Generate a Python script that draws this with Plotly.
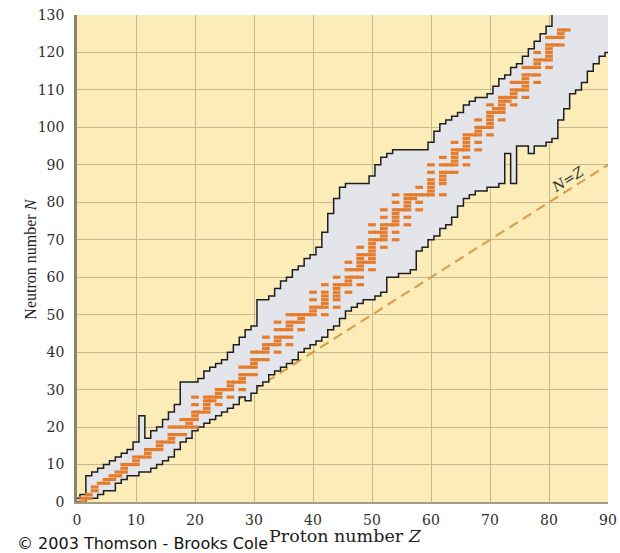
import plotly.graph_objects as go

# ---------------- data ----------------
# Proton-number columns of the band of known nuclides
band_Z = list(range(0, 91))
# lower (proton-rich) boundary line of known nuclides, read per column
lower_N = [0, 0, 1, 1, 2, 3, 3, 5, 6, 7,
           7, 8, 8, 9, 10, 11, 12, 14, 16, 17,
           19, 20, 21, 22, 23, 24, 25, 26, 28, 27,
           29, 31, 32, 34, 35, 36, 37, 38, 40, 41,
           42, 43, 44, 46, 47, 49, 51, 52, 53, 54,
           54, 55, 56, 60, 60, 61, 61, 62, 67, 68,
           70, 71, 73, 74, 76, 79, 81, 82, 83, 83,
           84, 84, 85, 93, 85, 95, 95, 93, 95, 95,
           96, 97, 102, 105, 109, 110, 112, 115, 117, 119,
           120]
# upper (neutron-rich) boundary line of known nuclides, read per column
upper_N = [1, 2, 7, 8, 9, 10, 11, 12, 13, 14,
           16, 23, 17, 19, 20, 22, 24, 26, 32, 32,
           32, 33, 35, 36, 37, 38, 40, 42, 44, 46,
           47, 54, 54, 55, 57, 59, 60, 62, 63, 65,
           66, 68, 72, 77, 81, 84, 85, 85, 85, 85,
           87, 90, 92, 93, 94, 94, 94, 94, 94, 94,
           96, 99, 101, 102, 103, 104, 106, 107, 108, 108,
           109, 111, 113, 114, 116, 117, 119, 121, 123, 125,
           127, 140, 140, 140, 140, 140, 140, 140, 140, 140,
           140]

# stable nuclides: neutron numbers for each proton number
stable = {
    1: [0, 1], 2: [1, 2], 3: [3, 4], 4: [5], 5: [5, 6], 6: [6, 7], 7: [7, 8],
    8: [8, 9, 10], 9: [10], 10: [10, 11, 12], 11: [12], 12: [12, 13, 14],
    13: [14], 14: [14, 15, 16], 15: [16], 16: [16, 17, 18, 20], 17: [18, 20],
    18: [18, 20, 22], 19: [20, 21, 22], 20: [20, 22, 23, 24, 26, 28], 21: [24],
    22: [24, 25, 26, 27, 28], 23: [27, 28], 24: [26, 28, 29, 30], 25: [30],
    26: [28, 30, 31, 32], 27: [32], 28: [30, 32, 33, 34, 36], 29: [34, 36],
    30: [34, 36, 37, 38, 40], 31: [38, 40], 32: [38, 40, 41, 42, 44], 33: [42],
    34: [40, 42, 43, 44, 46, 48], 35: [44, 46], 36: [42, 44, 46, 47, 48, 50],
    37: [48, 50], 38: [46, 48, 49, 50], 39: [50], 40: [50, 51, 52, 54, 56],
    41: [52], 42: [50, 52, 53, 54, 55, 56, 58], 44: [52, 54, 55, 56, 57, 58, 60],
    45: [58], 46: [56, 58, 59, 60, 62, 64], 47: [60, 62],
    48: [58, 60, 62, 63, 64, 65, 66, 68], 49: [64, 66],
    50: [62, 64, 65, 66, 67, 68, 69, 70, 72, 74], 51: [70, 72],
    52: [68, 70, 71, 72, 73, 74, 76, 78], 53: [74],
    54: [70, 72, 74, 75, 76, 77, 78, 80, 82], 55: [78],
    56: [74, 76, 78, 79, 80, 81, 82], 57: [81, 82], 58: [78, 80, 82, 84],
    59: [82], 60: [82, 83, 84, 85, 86, 88, 90], 62: [82, 85, 86, 87, 88, 90, 92],
    63: [88, 90], 64: [88, 90, 91, 92, 93, 94, 96], 65: [94],
    66: [90, 92, 94, 95, 96, 97, 98], 67: [98], 68: [94, 96, 98, 99, 100, 102],
    69: [100], 70: [98, 100, 101, 102, 103, 104, 106], 71: [104, 105],
    72: [102, 104, 105, 106, 107, 108], 73: [107, 108],
    74: [106, 108, 109, 110, 112], 75: [110, 112],
    76: [108, 110, 111, 112, 113, 114, 116], 77: [114, 116],
    78: [112, 114, 116, 117, 118, 120], 79: [118],
    80: [116, 118, 119, 120, 121, 122, 124], 81: [122, 124],
    82: [122, 124, 125, 126], 83: [126],
}
stable_Z = [z for z, ns in stable.items() for _ in ns]
stable_N = [n for z, ns in stable.items() for n in ns]

# the N = Z reference line
nz_Z = [0, 90]
nz_N = [0, 90]

x_ticks = [0, 10, 20, 30, 40, 50, 60, 70, 80, 90]
y_ticks = [0, 10, 20, 30, 40, 50, 60, 70, 80, 90, 100, 110, 120, 130]

# ---------------- styling ----------------
BG = '#FCECB8'
GRID = '#C8B88F'
BAND = '#E3E5EA'
EDGE = '#1E1E1E'
ORANGE = '#E57C2C'
DASH = '#D9A050'

edge_x = [z - 0.5 for z in band_Z] + [band_Z[-1] + 0.5]
low_y = lower_N + [lower_N[-1]]
up_y = upper_N + [upper_N[-1]]

fig = go.Figure()
fig.add_trace(go.Scatter(x=nz_Z, y=nz_N, mode='lines',
                         line=dict(color=DASH, width=2.2, dash='10px,6px'),
                         hoverinfo='skip'))
fig.add_trace(go.Scatter(x=edge_x, y=low_y, mode='lines', line_shape='hv',
                         line=dict(color=EDGE, width=1.5), hoverinfo='skip'))
fig.add_trace(go.Scatter(x=edge_x, y=up_y, mode='lines', line_shape='hv',
                         fill='tonexty', fillcolor=BAND,
                         line=dict(color=EDGE, width=1.5), hoverinfo='skip'))
fig.add_trace(go.Scatter(x=stable_Z, y=stable_N, mode='markers',
                         marker=dict(symbol='line-ew', size=5.5,
                                     color=ORANGE,
                                     line=dict(color=ORANGE, width=3.2)),
                         hoverinfo='skip'))

tick_font = dict(family='DejaVu Serif', size=14, color='#2e2e2e')
fig.update_xaxes(range=[0, 90], tickvals=x_ticks, ticktext=[str(v) for v in x_ticks],
                 showgrid=True, gridcolor=GRID, gridwidth=1, zeroline=False,
                 showline=True, linecolor='#A89C80', linewidth=1.5,
                 ticks='', tickfont=tick_font, ticklabelstandoff=4,
                 automargin=False)
fig.update_yaxes(range=[0, 130], tickvals=y_ticks, ticktext=[str(v) for v in y_ticks],
                 showgrid=True, gridcolor=GRID, gridwidth=1, zeroline=False,
                 showline=True, linecolor='#8C8270', linewidth=2.5,
                 ticks='', tickfont=tick_font, ticklabelstandoff=7,
                 automargin=False)

fig.update_layout(
    width=620, height=553,
    margin=dict(l=77, r=12, t=15, b=51),
    paper_bgcolor='white', plot_bgcolor=BG,
    showlegend=False,
    annotations=[
        dict(text='<i>N</i>=<i>Z</i>', x=83.2, y=86.2, xref='x', yref='y',
             showarrow=False, textangle=-32,
             font=dict(family='DejaVu Serif', size=14, color='#333')),
        dict(text='Neutron number <i>N</i>', x=-0.107, y=0.499,
             xref='paper', yref='paper', showarrow=False, textangle=-90,
             font=dict(family='Liberation Serif', size=16, color='#222')),
        dict(text='Proton number <i>Z</i>', x=0.505, y=-0.070,
             xref='paper', yref='paper', showarrow=False,
             xanchor='center', yanchor='middle',
             font=dict(family='DejaVu Serif', size=17.5, color='#222')),
        dict(text='© 2003 Thomson - Brooks Cole', x=-0.1168, y=-0.0860,
             xref='paper', yref='paper', showarrow=False,
             xanchor='left', yanchor='middle',
             font=dict(family='DejaVu Sans', size=16, color='#111')),
    ],
)

fig.write_html('out.html', config={'displayModeBar': False},
               post_script="document.body.style.margin='0';"
                           "document.body.style.overflow='hidden';")
